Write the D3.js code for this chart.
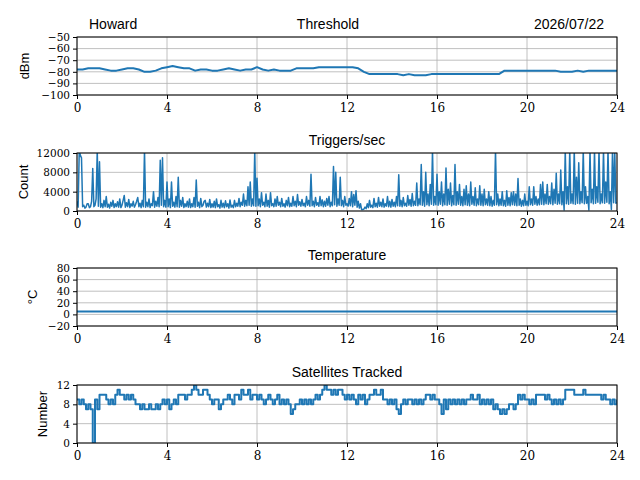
<!DOCTYPE html>
<html>
<head>
<meta charset="utf-8">
<script src="https://cdn.jsdelivr.net/npm/d3@7"></script>
<style>
body { margin: 0; background: #fff; }
.tick text { font-family: "DejaVu Serif", serif; font-size: 10.5px; fill: #000; }
.xaxis .tick text { font-size: 12px; }
.title { font-family: "Liberation Sans", sans-serif; font-size: 14px; fill: #000; }
.ylab { font-family: "Liberation Sans", sans-serif; font-size: 13px; fill: #000; }
</style>
</head>
<body>
<div id="chart"></div>
<script>
// hour ticks shared by every panel
var hourTicks = [0, 4, 8, 12, 16, 20, 24];

// threshold, dBm, one value every 0.25 h
var thresholdStep = 0.25;
var thresholdValues = [
  -78, -78, -77, -77, -77, -78, -79, -79, -78, -77, -77, -78,
  -80, -80, -79, -77, -76, -75, -76, -77, -77, -79, -78, -78,
  -79, -79, -78, -77, -78, -79, -78, -78, -76, -78, -79, -78,
  -79, -79, -79, -77, -77, -77, -77, -76, -76, -76, -76, -76,
  -76, -76, -77, -80, -82, -82, -82, -82, -82, -82, -83, -82,
  -83, -83, -83, -82, -82, -82, -82, -82, -82, -82, -82, -82,
  -82, -82, -82, -82, -79, -79, -79, -79, -79, -79, -79, -79,
  -79, -79, -80, -80, -80, -79, -80, -79, -79, -79, -79, -79, -79
];

// triggers per second, one value every 0.05 h (one row per hour)
var triggerStep = 0.05;
var triggerValues = [
  2000, 800, 12500, 11500, 11000, 900, 1200, 600, 800, 1500, 1500, 700, 900, 2000, 8800, 900, 1200, 2500, 12500, 1000,
  10200, 800, 1500, 700, 2200, 900, 3000, 800, 1400, 600, 1800, 1000, 2200, 700, 1500, 900, 1900, 800, 2500, 700,
  1200, 2200, 3200, 800, 1700, 900, 2400, 700, 1500, 1000, 2000, 800, 1300, 2000, 2800, 900, 1600, 700, 2200, 900,
  12500, 800, 1800, 900, 2500, 700, 1500, 1100, 4000, 800, 2000, 1000, 2800, 900, 10500, 1200, 11000, 900, 2200, 800,
  6000, 900, 2500, 700, 6000, 1000, 1800, 800, 3000, 900, 7000, 800, 2200, 1000, 2800, 700, 1500, 900, 2000, 800,
  2500, 700, 1500, 900, 2800, 800, 6400, 1000, 1800, 700, 2600, 900, 1200, 2000, 2200, 800, 1600, 900, 2400, 700,
  1500, 800, 2000, 700, 2500, 900, 1300, 600, 2200, 800, 1600, 700, 2100, 900, 1500, 600, 2300, 800, 1200, 700,
  2200, 900, 1600, 1000, 2600, 900, 1800, 1200, 3500, 1000, 2200, 1100, 5000, 1200, 6000, 1000, 2500, 1100, 12500, 1000,
  6800, 1100, 2500, 900, 3800, 1200, 1800, 900, 3500, 1000, 2200, 800, 3800, 1100, 1500, 900, 2500, 1000, 3000, 1200,
  1800, 900, 2600, 1000, 1500, 800, 2200, 1100, 2800, 900, 1600, 1000, 3000, 1100, 2000, 900, 3400, 1200, 1900, 1000,
  2400, 1100, 1600, 900, 3000, 1200, 2200, 1000, 7600, 1100, 2000, 900, 2800, 1200, 1700, 1000, 3000, 1100, 2300, 900,
  2000, 1000, 2600, 1200, 3000, 900, 1800, 1100, 9200, 1300, 8000, 1000, 2500, 1200, 7000, 1100, 2200, 900, 3000, 1200,
  1500, 1000, 2600, 1100, 4000, 900, 3400, 1200, 4200, 800, 2000, 600, 1500, 300, 300, 400, 800, 500, 1500, 700,
  2200, 800, 1200, 700, 2600, 900, 1600, 800, 2800, 1000, 1800, 900, 2500, 800, 1500, 1000, 3000, 900, 2000, 800,
  2400, 1000, 1800, 900, 3000, 1100, 7500, 1000, 2200, 900, 2800, 1100, 1600, 1000, 3200, 1200, 2400, 1000, 3600, 1100,
  2000, 1200, 5800, 1100, 2500, 1300, 9600, 1200, 4000, 1000, 8000, 1300, 3500, 1100, 5500, 1400, 12500, 1200, 3000, 1300,
  7600, 1200, 4000, 1400, 6000, 1100, 3500, 1300, 8900, 1200, 4500, 1400, 5800, 1100, 3200, 1300, 9600, 1200, 4000, 1400,
  5500, 1200, 3000, 1100, 4500, 1300, 5200, 1200, 3500, 1100, 6000, 1400, 3000, 1200, 4800, 1100, 2500, 1300, 5200, 1200,
  3500, 1100, 4500, 1300, 2500, 1200, 4000, 1100, 3000, 1000, 2200, 1200, 12500, 1300, 3500, 1100, 2500, 1200, 4000, 1100,
  2200, 1000, 4200, 1200, 2800, 1100, 3800, 1300, 4000, 1200, 3500, 1100, 6700, 1200, 2500, 1000, 2200, 1100, 3500, 1200,
  2000, 1100, 5000, 1300, 2500, 1200, 5000, 1400, 3000, 1200, 2500, 1300, 5500, 1400, 6000, 1300, 3500, 1500, 5500, 1400,
  3000, 1500, 5800, 1300, 4500, 1600, 7800, 1400, 3500, 1500, 8500, 1300, 4000, 200, 12500, 1500, 5000, 1400, 12500, 1600,
  3500, 1500, 12500, 1400, 7000, 1600, 10000, 1500, 4000, 1700, 12500, 1500, 5000, 1600, 3000, 200, 12500, 1700, 4500, 1500,
  12500, 1600, 5000, 1800, 12500, 1500, 3500, 1700, 12500, 1600, 6000, 1800, 12500, 1500, 4000, 300, 12500, 1700, 12500, 1600,
  1800
];

// temperature, one value every hour
var temperatureStep = 1;
var temperatureValues = [5, 5, 5, 5, 5, 5, 5, 5, 5, 5, 5, 5, 5, 5, 5, 5, 5, 5, 5, 5, 5, 5, 5, 5, 5];

// satellites tracked, one value every 0.1 h
var satelliteStep = 0.1;
var satelliteValues = [
  9, 8, 9, 8, 7, 8, 7, 0, 9, 7,
  10, 10, 10, 9, 8, 9, 8, 10, 11, 10,
  10, 9, 10, 9, 10, 9, 8, 8, 7, 8,
  7, 7, 8, 7, 7, 8, 7, 8, 9, 8,
  9, 7, 8, 9, 8, 10, 10, 10, 9, 10,
  10, 11, 12, 11, 10, 10, 11, 11, 10, 9,
  8, 9, 9, 7, 8, 9, 9, 10, 9, 8,
  10, 10, 9, 11, 10, 10, 11, 9, 10, 10,
  9, 10, 9, 8, 9, 10, 9, 8, 9, 10,
  8, 9, 8, 9, 8, 6, 7, 8, 8, 9,
  8, 9, 8, 9, 8, 9, 10, 9, 10, 11,
  12, 11, 11, 10, 11, 10, 11, 11, 10, 9,
  10, 9, 10, 9, 8, 10, 9, 10, 8, 9,
  10, 10, 11, 10, 10, 11, 9, 9, 8, 9,
  8, 9, 7, 6, 8, 9, 8, 9, 9, 8,
  9, 8, 9, 8, 9, 10, 10, 9, 10, 9,
  9, 8, 6, 9, 7, 9, 8, 9, 8, 9,
  8, 9, 8, 9, 9, 10, 9, 9, 10, 8,
  9, 8, 9, 8, 9, 7, 8, 7, 6, 7,
  6, 7, 8, 8, 7, 8, 10, 9, 10, 9,
  9, 8, 9, 8, 10, 10, 10, 10, 9, 10,
  9, 8, 9, 8, 9, 8, 9, 11, 11, 11,
  11, 10, 10, 10, 10, 11, 10, 10, 10, 10,
  10, 10, 10, 9, 10, 9, 9, 8, 9, 8,
  9
];

var thresholdTicks = [-100, -90, -80, -70, -60, -50];
var triggerTicks = [0, 4000, 8000, 12000];
var temperatureTicks = [-20, 0, 20, 40, 60, 80];
var satelliteTicks = [0, 4, 8, 12];

var W = 640, H = 480;
var left = 77, right = 617, panelH = 58;

var svg = d3.select("#chart").append("svg")
  .attr("width", W).attr("height", H);

function toPoints(values, step) {
  return values.map(function(v, i) { return {t: i * step, v: v}; });
}

function drawPanel(cfg) {
  var top = cfg.top;
  var x = d3.scaleLinear().domain([0, 24]).range([left, right]);
  var y = d3.scaleLinear().domain(cfg.domain).range([top + panelH, top]);

  var g = svg.append("g");

  // grid
  g.selectAll(".gx").data(hourTicks).enter().append("line")
    .attr("x1", function(d) { return x(d); }).attr("x2", function(d) { return x(d); })
    .attr("y1", top).attr("y2", top + panelH)
    .attr("stroke", "#b0b0b0").attr("stroke-width", 0.8);
  g.selectAll(".gy").data(cfg.ticks).enter().append("line")
    .attr("x1", left).attr("x2", right)
    .attr("y1", function(d) { return y(d); }).attr("y2", function(d) { return y(d); })
    .attr("stroke", "#b0b0b0").attr("stroke-width", 0.8);

  var clipId = "clip" + cfg.id;
  svg.append("clipPath").attr("id", clipId).append("rect")
    .attr("x", left).attr("y", top).attr("width", right - left).attr("height", panelH);

  var line = d3.line()
    .curve(cfg.curve || d3.curveLinear)
    .x(function(d) { return x(d.t); })
    .y(function(d) { return y(d.v); });

  g.append("path")
    .datum(toPoints(cfg.values, cfg.step))
    .attr("clip-path", "url(#" + clipId + ")")
    .attr("fill", "none")
    .attr("stroke", "#1f77b4")
    .attr("stroke-width", cfg.lineWidth)
    .attr("stroke-linejoin", "round")
    .attr("d", line);

  // frame
  g.append("rect")
    .attr("x", left).attr("y", top).attr("width", right - left).attr("height", panelH)
    .attr("fill", "none").attr("stroke", "#000").attr("stroke-width", 1);

  var xAxis = d3.axisBottom(x).tickValues(hourTicks).tickSize(4).tickPadding(4).tickFormat(d3.format("d"));
  g.append("g").attr("class", "xaxis").attr("transform", "translate(0," + (top + panelH) + ")").call(xAxis)
    .call(function(s) { s.select(".domain").remove(); });

  var yAxis = d3.axisLeft(y).tickValues(cfg.ticks).tickSize(4).tickPadding(3).tickFormat(d3.format("d"));
  g.append("g").attr("transform", "translate(" + left + ",0)").call(yAxis)
    .call(function(s) { s.select(".domain").remove(); });

  g.append("text").attr("class", "ylab")
    .attr("transform", "translate(" + cfg.labelX + "," + (top + panelH / 2) + ") rotate(-90)")
    .attr("text-anchor", "middle")
    .text(cfg.yLabel);

  if (cfg.title) {
    g.append("text").attr("class", "title")
      .attr("x", (left + right) / 2).attr("y", top - 8)
      .attr("text-anchor", "middle")
      .text(cfg.title);
  }
}

drawPanel({id: 1, top: 37, domain: [-100, -50], ticks: thresholdTicks, values: thresholdValues,
  step: thresholdStep, lineWidth: 2, yLabel: "dBm", labelX: 29});
drawPanel({id: 2, top: 153, domain: [0, 12000], ticks: triggerTicks, values: triggerValues,
  step: triggerStep, lineWidth: 1.5, yLabel: "Count", labelX: 28, title: "Triggers/sec"});
drawPanel({id: 3, top: 268, domain: [-20, 80], ticks: temperatureTicks, values: temperatureValues,
  step: temperatureStep, lineWidth: 2, yLabel: "\u00b0C", labelX: 37, title: "Temperature"});
drawPanel({id: 4, top: 385, domain: [0, 12], ticks: satelliteTicks, values: satelliteValues,
  step: satelliteStep, lineWidth: 2, yLabel: "Number", labelX: 47, title: "Satellites Tracked",
  curve: d3.curveStepAfter});

// header row
svg.append("text").attr("class", "title").attr("x", 89).attr("y", 29).text("Howard");
svg.append("text").attr("class", "title").attr("x", 328).attr("y", 29)
  .attr("text-anchor", "middle").text("Threshold");
svg.append("text").attr("class", "title").attr("x", 604).attr("y", 29)
  .attr("text-anchor", "end").text("2026/07/22");
</script>
</body>
</html>
